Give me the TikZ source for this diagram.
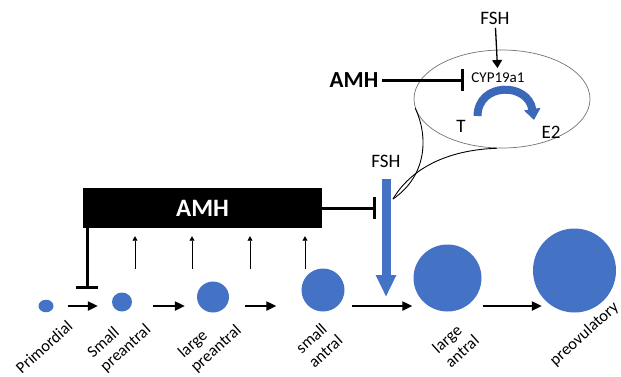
\documentclass[tikz,border=0pt]{standalone}
\usepackage{fontspec}
\setmainfont{Carlito}
\usetikzlibrary{shapes.geometric}
\usetikzlibrary{arrows.meta, positioning}
\definecolor{follblue}{HTML}{4472C4}
\definecolor{arcblue}{HTML}{3B68B8}

\begin{document}
\begin{tikzpicture}[x=1pt, y=-1pt,
    foll/.style={ellipse, fill=follblue, inner sep=0pt},
    lab/.style={rotate=42, align=left, inner sep=0pt,
        font=\fontsize{16.5}{19}\selectfont},
    txt/.style={font=\fontsize{19}{19}\selectfont},
    fwd/.style={-{Triangle[length=10pt,width=9pt]}, line width=2.2pt},
    upar/.style={-{Triangle[length=4.5pt,width=5pt]}, line width=0.7pt},
    inhib/.style={-{Bar[width=22pt]}, line width=3pt}]

    \useasboundingbox (0,0) rectangle (621,376);

    % follicles
    \node[foll, minimum width=15pt, minimum height=12.5pt] (prim) at (46,306) {};
    \node[foll, minimum width=20pt, minimum height=19pt] (sp) at (122,302) {};
    \node[foll, minimum width=32pt, minimum height=31pt] (lp) at (213,297) {};
    \node[foll, minimum width=43pt, minimum height=43pt] (sa) at (323,290) {};
    \node[foll, minimum width=68pt, minimum height=67pt] (la) at (447.5,278) {};
    \node[foll, minimum width=83pt, minimum height=84pt] (po) at (574.5,270.5) {};

    \node[lab] (lprim) at (44,347) {Primordial};
    \node[lab] (lsp) at (119.5,341.5) {Small\\preantral};
    \node[lab] (llp) at (210,342) {large\\preantral};
    \node[lab] (lsa) at (319,344) {small\\antral};
    \node[lab] (lla) at (455.5,344) {large\\antral};
    \node[lab] (lpo) at (584.5,334) {preovulatory};

    \coordinate (base) at (0,306);
    \draw[fwd, shorten <=14pt, shorten >=14pt] (prim.east |- base) -- (sp.west |- base);
    \draw[fwd, shorten <=21pt, shorten >=12pt] (sp.east |- base) -- (lp.west |- base);
    \draw[fwd, shorten <=16pt, shorten >=25pt] (lp.east |- base) -- (sa.west |- base);
    \draw[fwd, shorten <=7pt, shorten >=1pt] (sa.east |- base) -- (la.west |- base);
    \draw[fwd, shorten <=1pt, shorten >=-9pt] (la.east |- base) -- (po.west |- base);

    % AMH block
    \node[fill=black, text=white, minimum width=239pt, minimum height=40pt,
        font=\bfseries\fontsize{25}{25}\selectfont] (amhbox) at (202.5,208) {AMH};
    \draw[inhib] ([xshift=4.5pt]amhbox.south west) -- ++(0,61);
    \foreach \x in {135,192,250,305}
        \draw[upar, shorten >=8pt] (\x,269) -- (amhbox.south -| \x,0);

    % FSH on large antral
    \node[txt] (fshmid) at (386,161) {FSH};
    \coordinate (fsharr) at (386,297);
    \draw[follblue, line width=9pt, shorten <=8pt,
        -{Triangle[length=22pt,width=19pt]}] (fshmid) -- (fsharr);
    \draw[inhib, shorten >=10pt] (amhbox.east) -- (amhbox.east -| fsharr);

    % zoom bubble
    \node[ellipse, draw=black!55, line width=0.7pt, minimum width=176pt,
        minimum height=98pt] (zoom) at (502,99) {};
    \coordinate (tail) at (393,199);
    \draw[line width=0.9pt] (zoom.186) .. controls (428,135) and (428,175) .. (tail);
    \draw[line width=0.9pt] (zoom.264) .. controls (445,150) and (410,170) .. (tail);

    \node[txt] (fshtop) at (495,18) {FSH};
    \node[font=\fontsize{15}{15}\selectfont] (cyp) at (498,77.5) {CYP19a1};
    \node[font=\bfseries\fontsize{23}{23}\selectfont] (amhtop) at (354,80) {AMH};
    \node[txt] (t) at (461,126) {T};
    \node[txt] (e2) at (551,132) {E2};
    \draw[-{Triangle[length=8pt,width=10pt]}, line width=1.3pt, shorten >=1pt] (fshtop) -- (cyp);
    \draw[inhib, shorten >=4pt] (amhtop.east) -- (amhtop.east -| cyp.west);
    \draw[arcblue, line width=8pt, -{Triangle[length=11pt,width=16pt]}]
        (477.5,116) .. controls (478,82) and (528,82) .. (534,120);
\end{tikzpicture}
\end{document}
